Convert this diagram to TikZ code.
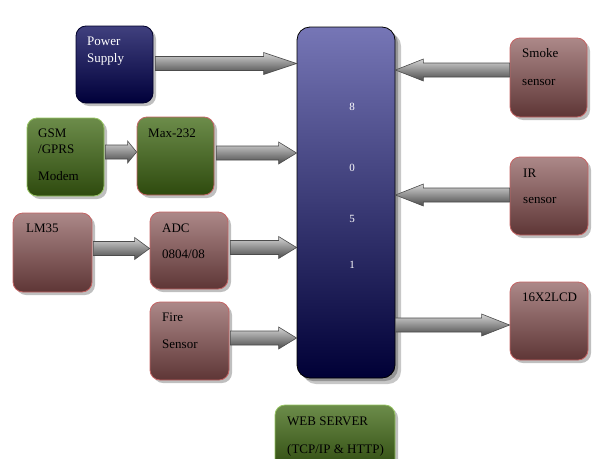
\documentclass[tikz,border=0pt]{standalone}
\usepackage{fontspec}
\setmainfont{Liberation Serif}
\usetikzlibrary{calc,shadows}
\definecolor{navyT}{HTML}{40407E}
\definecolor{navyB}{HTML}{00003A}
\definecolor{mcuT}{HTML}{7676B6}
\definecolor{mcuB}{HTML}{000036}
\definecolor{grnT}{HTML}{6C8C4A}
\definecolor{grnB}{HTML}{2E4A0E}
\definecolor{grnE}{HTML}{96C462}
\definecolor{brnT}{HTML}{AC8888}
\definecolor{brnB}{HTML}{5E3636}
\definecolor{brnE}{HTML}{C46464}
\definecolor{arT}{HTML}{D4D4D4}
\definecolor{arB}{HTML}{4A4A4A}
\newcommand\barrow[3]{%
  \path let \p1=#1, \p2=#2, \n1={sign(\x2-\x1)} in
    [top color=arT, bottom color=arB, draw=gray!60!black, line width=0.6pt]
    (\x1,\y1+7pt) -- (\x2-\n1*#3,\y1+7pt) -- (\x2-\n1*#3,\y1+11pt) -- (\x2,\y1)
    -- (\x2-\n1*#3,\y1-11pt) -- (\x2-\n1*#3,\y1-7pt) -- (\x1,\y1-7pt) -- cycle;}
\begin{document}
\begin{tikzpicture}[x=1pt,y=-1pt,
  box/.style={rectangle, rounded corners=10pt, line width=0.8pt, inner sep=0pt,
    drop shadow={shadow xshift=3pt, shadow yshift=-3pt, fill=black, opacity=0.25}},
  navybox/.style={box, top color=navyT, bottom color=navyB, draw=navyB!70!black},
  grnbox/.style={box, top color=grnT, bottom color=grnB, draw=grnE},
  grnredbox/.style={box, top color=grnT, bottom color=grnB, draw=brnE},
  brnbox/.style={box, top color=brnT, bottom color=brnB, draw=brnE},
  lbl/.style={anchor=base west, inner sep=0pt, font=\fontsize{13}{15}\selectfont},
  wlbl/.style={lbl, text=white},
  dig/.style={inner sep=0pt, text=white, font=\fontsize{11}{13}\selectfont}]
\useasboundingbox (0,0) rectangle (601,458);
\fill[white] (0,0) rectangle (601,458);
% boxes
\node[navybox, minimum width=77pt, minimum height=77pt] (ps) at (114.5,64.5) {};
\node[grnbox, minimum width=77pt, minimum height=78pt] (gsm) at (65.5,157) {};
\node[grnredbox, minimum width=77pt, minimum height=78pt] (max) at (175.5,156) {};
\node[brnbox, minimum width=79pt, minimum height=79pt] (lm) at (52.5,252.5) {};
\node[brnbox, minimum width=78pt, minimum height=77pt] (adc) at (189,250.5) {};
\node[brnbox, minimum width=79pt, minimum height=78pt] (fire) at (189.5,341) {};
\node[box, rounded corners=13pt, top color=mcuT, bottom color=mcuB, draw=black,
  drop shadow={shadow xshift=6pt, shadow yshift=-6pt, fill=black, opacity=0.22},
  minimum width=98pt, minimum height=351pt] (mcu) at (346,202.5) {};
\node[brnbox, minimum width=77pt, minimum height=79pt] (smoke) at (548.5,77.5) {};
\node[brnbox, minimum width=78pt, minimum height=78pt] (ir) at (549,196) {};
\node[brnbox, minimum width=78pt, minimum height=78pt] (lcd) at (549,321) {};
\node[grnbox, minimum width=120pt, minimum height=66pt] (web) at (335,438) {};
% labels
\node[wlbl] (t1) at (87,45) {Power};
\node[wlbl] (t2) at (87,62) {Supply};
\node[lbl] (t3) at (38,137) {GSM};
\node[lbl] (t4) at (38,153) {/GPRS};
\node[lbl] (t5) at (38,180) {Modem};
\node[lbl] (t6) at (148,137) {Max-232};
\node[lbl] (t7) at (26,232) {LM35};
\node[lbl] (t8) at (162,232) {ADC};
\node[lbl] (t9) at (162,258) {0804/08};
\node[lbl] (t10) at (162,321) {Fire};
\node[lbl] (t11) at (162,348) {Sensor};
\node[lbl] (t12) at (522,57) {Smoke};
\node[lbl] (t13) at (522,85) {sensor};
\node[lbl] (t14) at (523,177) {IR};
\node[lbl] (t15) at (523,203) {sensor};
\node[lbl] (t16) at (522,301) {16X2LCD};
\node[lbl] (t17) at (287,425) {WEB SERVER};
\node[lbl] (t18) at (287,453) {(TCP/IP \& HTTP)};
\node[dig] (d1) at (352,107) {8};
\node[dig] (d2) at (352,168) {0};
\node[dig] (d3) at (352,219) {5};
\node[dig] (d4) at (352,265) {1};
% arrows
\barrow{($(ps.east)+(2,-1)$)}{(mcu.west |- 0,64)}{33pt}
\barrow{($(gsm.east)+(1,-5)$)}{(max.west |- 0,152)}{9pt}
\barrow{($(max.east)+(2,-3)$)}{(mcu.west |- 0,153)}{18pt}
\barrow{($(lm.east)+(1,-4)$)}{(adc.west |- 0,248)}{15pt}
\barrow{($(adc.east)+(2,-3)$)}{(mcu.west |- 0,248)}{18pt}
\barrow{($(fire.east)+(1,-3)$)}{(mcu.west |- 0,338)}{18pt}
\barrow{(smoke.west |- 0,70)}{(mcu.east |- 0,70)}{28pt}
\barrow{(ir.west |- 0,195)}{(mcu.east |- 0,195)}{28pt}
\barrow{(mcu.east |- 0,325)}{(lcd.west |- 0,325)}{28pt}
\end{tikzpicture}
\end{document}
